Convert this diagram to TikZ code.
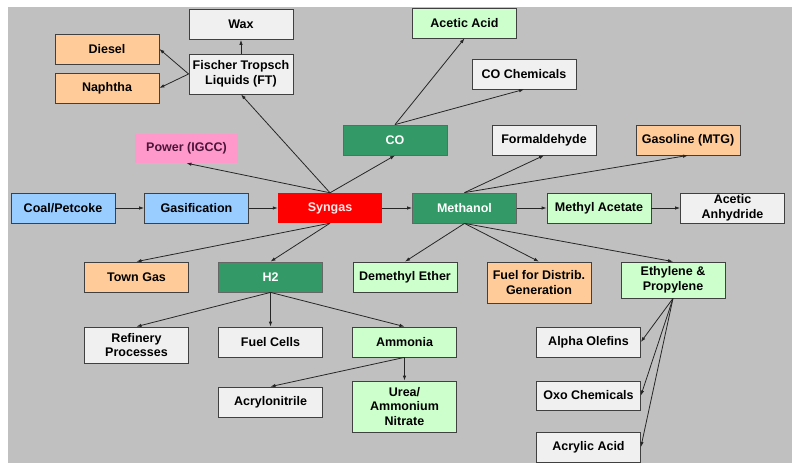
\documentclass[tikz,border=0pt]{standalone}
\usepackage{fontspec}
\setmainfont{Liberation Sans}
\usetikzlibrary{arrows.meta}
\definecolor{bggray}{HTML}{C0C0C0}
\definecolor{feedblue}{HTML}{99CCFF}
\definecolor{fuelorange}{HTML}{FFCC99}
\definecolor{chemgreen}{HTML}{CCFFCC}
\definecolor{keygreen}{HTML}{339966}
\definecolor{prodgray}{HTML}{F0F0F0}
\definecolor{powerpink}{HTML}{FF99CC}
\definecolor{powertext}{HTML}{4A1538}
\definecolor{syngasred}{HTML}{FF0000}

\begin{document}
\begin{tikzpicture}[x=1pt,y=-1pt]
    \tikzstyle{every node}+=[inner sep=1pt, align=center, font=\bfseries\fontsize{12.5}{14.5}\selectfont]
    \tikzstyle{box}=[draw=black!75, line width=0.8pt, minimum width=104pt, minimum height=30pt]
    \tikzstyle{feed}=[box, fill=feedblue]
    \tikzstyle{fuel}=[box, fill=fuelorange]
    \tikzstyle{chem}=[box, fill=chemgreen]
    \tikzstyle{prod}=[box, fill=prodgray]
    \tikzstyle{key}=[box, fill=keygreen, draw=black!60, text=white]
    \tikzstyle{link}=[black!85, line width=0.8pt, -{Latex[length=5pt,width=3.5pt]}]
    \useasboundingbox (0,0) rectangle (800,470);
    \fill [white] (0,0) rectangle (800,470);
    \fill [bggray] (8,7) rectangle (792,463);
    % feedstock and syngas line
    \node [feed] (coal) at (63,208) {Coal/Petcoke};
    \node [feed] (gasif) at (196.5,208) {Gasification};
    \node [minimum width=104pt, minimum height=30pt, fill=syngasred, text=red!8] (syngas) at (330,208) {Syngas};
    \node [key] (methanol) at (464.5,208) {Methanol};
    \node [chem] (macet) at (599,208) {Methyl Acetate};
    \node [prod] (anhyd) at (732.5,208) {Acetic\\Anhydride};
    % upper branches
    \node [prod] (wax) at (241,24.5) {Wax};
    \node [fuel] (diesel) at (107,49) {Diesel};
    \node [fuel] (naphtha) at (107,88) {Naphtha};
    \node [prod, minimum height=40pt] (ft) at (241,74) {Fischer Tropsch\\Liquids (FT)};
    \node [minimum width=103pt, minimum height=29pt, fill=powerpink, text=powertext] (power) at (186.5,148.5) {Power (IGCC)};
    \node [key] (co) at (395,140) {CO};
    \node [chem] (acetic) at (464.5,23) {Acetic Acid};
    \node [prod] (cochem) at (524,74) {CO Chemicals};
    \node [prod] (formal) at (544,140) {Formaldehyde};
    \node [fuel] (gasoline) at (688,140) {Gasoline (MTG)};
    % lower branches
    \node [fuel] (town) at (136.5,277) {Town Gas};
    \node [key] (h2) at (270.5,277) {H2};
    \node [chem] (dme) at (405,277) {Demethyl Ether};
    \node [fuel, minimum height=41pt] (distrib) at (539,282.5) {Fuel for Distrib.\\Generation};
    \node [chem, minimum height=36pt] (ethyl) at (673,280) {Ethylene \&\\Propylene};
    \node [prod, minimum height=36pt] (refinery) at (136.5,345) {Refinery\\Processes};
    \node [prod] (cells) at (270.5,342) {Fuel Cells};
    \node [chem] (ammonia) at (404.5,342) {Ammonia};
    \node [prod] (acryl) at (270.5,402) {Acrylonitrile};
    \node [chem, minimum height=51pt] (urea) at (404.5,406.5) {Urea/\\Ammonium\\Nitrate};
    \node [prod] (alpha) at (588.5,342) {Alpha Olefins};
    \node [prod, minimum height=29pt] (oxo) at (588.5,395.5) {Oxo Chemicals};
    \node [prod] (acrylic) at (588.5,447) {Acrylic Acid};
    % connectors
    \draw [link] (coal) -- (gasif);
    \draw [link] (gasif) -- (syngas);
    \draw [link] (syngas) -- (methanol);
    \draw [link] (methanol) -- (macet);
    \draw [link] (macet) -- (anhyd);
    \draw [link] (syngas.north) -- (ft.south);
    \draw [link] (syngas.north) -- (power.south);
    \draw [link] (syngas.north) -- (co.south);
    \draw [link] (ft.north) -- (wax.south);
    \draw [link] (ft.west) -- (diesel.east);
    \draw [link] (ft.west) -- (naphtha.east);
    \draw [link] (co.north) -- (acetic.south);
    \draw [link] (co.north) -- (cochem.south);
    \draw [link] (methanol.north) -- (formal.south);
    \draw [link] (methanol.north) -- (gasoline.south);
    \draw [link] (syngas.south) -- (town.north);
    \draw [link] (syngas.south) -- (h2.north);
    \draw [link] (methanol.south) -- (dme.north);
    \draw [link] (methanol.south) -- (distrib.north);
    \draw [link] (methanol.south) -- (ethyl.north);
    \draw [link] (h2.south) -- (refinery.north);
    \draw [link] (h2.south) -- (cells.north);
    \draw [link] (h2.south) -- (ammonia.north);
    \draw [link] (ammonia.south) -- (acryl.north);
    \draw [link] (ammonia.south) -- (urea.north);
    \draw [link] (ethyl.south) -- (alpha.east);
    \draw [link] (ethyl.south) -- (oxo.east);
    \draw [link] (ethyl.south) -- (acrylic.east);
\end{tikzpicture}
\end{document}
